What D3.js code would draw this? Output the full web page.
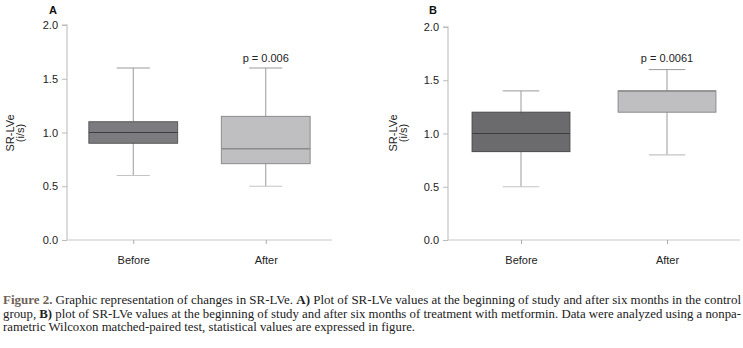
<!DOCTYPE html>
<html>
<head>
<meta charset="utf-8">
<script src="https://cdn.jsdelivr.net/npm/d3@7"></script>
<style>
  body { margin: 0; background: #fff; }
  svg { display: block; }
  .tick text { font-family: "Liberation Sans", Arial, sans-serif; }
</style>
</head>
<body>
<svg id="fig" width="743" height="348"></svg>
<script>
const groups = ["Before", "After"];
const yTicks = [0, 0.5, 1.0, 1.5, 2.0];

// panel A (control group)
const aMin = [0.6, 0.5];
const aQ1 = [0.9, 0.71];
const aMed = [1.0, 0.85];
const aQ3 = [1.1, 1.15];
const aMax = [1.6, 1.6];

// panel B (metformin)
const bMin = [0.5, 0.8];
const bQ1 = [0.83, 1.2];
const bMed = [1.0, 1.4];
const bQ3 = [1.2, 1.4];
const bMax = [1.4, 1.6];

const pLabels = ["p = 0.006", "p = 0.0061"];
const panelLetters = ["A", "B"];

const captionLines = [
  [["Figure 2.", "fig"], [" Graphic representation of changes in SR-LVe. ", ""], ["A)", "b"], [" Plot of SR-LVe values at the beginning of study and after six months in the control", ""]],
  [["group, ", ""], ["B)", "b"], [" plot of SR-LVe values at the beginning of study and after six months of treatment with metformin. Data were analyzed using a nonpa-", ""]],
  [["rametric Wilcoxon matched-paired test, statistical values are expressed in figure.", ""]]
];
const captionWidths = [738, 738, 412];

const svg = d3.select("#fig");
const font = "'Liberation Sans', Arial, sans-serif";

const panels = [
  { x0: 67, x1: 332, yTop: 25, letterX: 53, labelX: 14, stats: [aMin, aQ1, aMed, aQ3, aMax],
    fills: ["#7c7c80", "#bfbfc1"], strokes: ["#58585a", "#8c8c8e"] },
  { x0: 448, x1: 740, yTop: 27, letterX: 433, labelX: 397, stats: [bMin, bQ1, bMed, bQ3, bMax],
    fills: ["#6b6b6e", "#bfbfc1"], strokes: ["#4a4a4c", "#8c8c8e"] }
];

panels.forEach((p, pi) => {
  const g = svg.append("g");
  const x = d3.scalePoint().domain(groups).range([p.x0, p.x1]).padding(0.5);
  const y = d3.scaleLinear().domain([0, 2]).range([240, p.yTop]);
  const step = x.step();
  const boxW = step * 0.67;
  const capW = step * 0.25;

  // y axis
  const yAxis = g.append("g")
    .attr("transform", `translate(${p.x0},0)`)
    .call(d3.axisLeft(y).tickValues(yTicks).tickFormat(d3.format(".1f")).tickSize(5).tickPadding(4));
  yAxis.select(".domain").attr("stroke", "#d0d0d0").attr("stroke-width", 1.5)
    .attr("d", `M-5,${p.yTop}H0V240`);
  yAxis.selectAll(".tick line").attr("stroke", "#bbb");
  yAxis.selectAll(".tick text").attr("font-size", 11).attr("fill", "#222");

  // x axis
  const xAxis = g.append("g")
    .attr("transform", "translate(0,240)")
    .call(d3.axisBottom(x).tickSize(4).tickPadding(12).tickSizeOuter(0));
  xAxis.select(".domain").attr("stroke", "#c8c8c8").attr("stroke-width", 1)
    .attr("d", `M${p.x0},0H${p.x1}`);
  xAxis.selectAll(".tick line").attr("stroke", "#aaa");
  xAxis.selectAll(".tick text").attr("font-size", 11).attr("fill", "#222");

  const [mins, q1s, meds, q3s, maxs] = p.stats;
  const boxes = g.selectAll(".box").data(groups).enter().append("g");

  // whiskers
  boxes.append("line")
    .attr("x1", d => x(d)).attr("x2", d => x(d))
    .attr("y1", (d, i) => y(maxs[i])).attr("y2", (d, i) => y(mins[i]))
    .attr("stroke", "#9a9a9a").attr("stroke-width", 1);
  boxes.append("line")
    .attr("x1", d => x(d) - capW / 2).attr("x2", d => x(d) + capW / 2)
    .attr("y1", (d, i) => y(maxs[i])).attr("y2", (d, i) => y(maxs[i]))
    .attr("stroke", "#9a9a9a").attr("stroke-width", 1);
  boxes.append("line")
    .attr("x1", d => x(d) - capW / 2).attr("x2", d => x(d) + capW / 2)
    .attr("y1", (d, i) => y(mins[i])).attr("y2", (d, i) => y(mins[i]))
    .attr("stroke", "#c4c4c4").attr("stroke-width", 1.2);

  // boxes
  boxes.append("rect")
    .attr("x", d => x(d) - boxW / 2)
    .attr("width", boxW)
    .attr("y", (d, i) => y(q3s[i]))
    .attr("height", (d, i) => y(q1s[i]) - y(q3s[i]))
    .attr("fill", (d, i) => p.fills[i])
    .attr("stroke", (d, i) => p.strokes[i])
    .attr("stroke-width", 1);
  boxes.append("line")
    .attr("x1", d => x(d) - boxW / 2).attr("x2", d => x(d) + boxW / 2)
    .attr("y1", (d, i) => y(meds[i])).attr("y2", (d, i) => y(meds[i]))
    .attr("stroke", (d, i) => i === 0 ? "#3e3e40" : "#8c8c8e")
    .attr("stroke-width", (d, i) => i === 0 ? 1 : 1.5);

  // p value
  g.append("text")
    .attr("x", x("After"))
    .attr("y", 62)
    .attr("text-anchor", "middle")
    .attr("font-family", font)
    .attr("font-size", 11)
    .attr("fill", "#222")
    .text(pLabels[pi]);

  // panel letter
  g.append("text")
    .attr("x", p.letterX)
    .attr("y", 14)
    .attr("text-anchor", "middle")
    .attr("font-family", font)
    .attr("font-size", 11)
    .attr("font-weight", "bold")
    .attr("fill", "#111")
    .text(panelLetters[pi]);

  // y label
  const lab = g.append("text")
    .attr("transform", `translate(${p.labelX},133) rotate(-90)`)
    .attr("text-anchor", "middle")
    .attr("font-family", font)
    .attr("font-size", 11)
    .attr("fill", "#222");
  lab.append("tspan").attr("x", 0).attr("dy", 0).text("SR-LVe");
  lab.append("tspan").attr("x", 0).attr("dy", 10).text("(i/s)");
});

// caption
const cap = svg.append("g").attr("font-family", "'Liberation Serif', 'Times New Roman', serif")
  .attr("font-size", 12).attr("fill", "#222");
captionLines.forEach((parts, li) => {
  const t = cap.append("text").attr("x", 3).attr("y", 304 + li * 13.5)
    .attr("textLength", captionWidths[li]).attr("lengthAdjust", "spacingAndGlyphs");
  parts.forEach(([s, kind]) => {
    const ts = t.append("tspan").text(s);
    if (kind === "fig") ts.attr("font-weight", "bold").attr("fill", "#6e6256");
    if (kind === "b") ts.attr("font-weight", "bold");
  });
});
</script>
</body>
</html>
